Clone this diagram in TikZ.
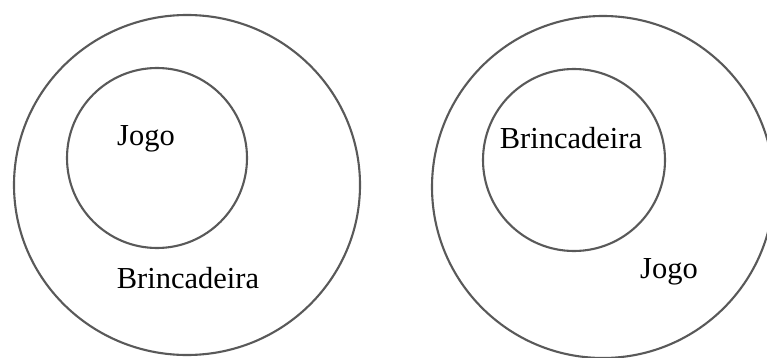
\documentclass[tikz,border=0pt]{standalone}
\usepackage{fontspec}
\setmainfont{Liberation Serif}
\begin{document}
\begin{tikzpicture}[x=1pt,y=-1pt,
  ring/.style={line width=2.1pt,draw=black!65},
  lbl/.style={font=\fontsize{30.5}{32}\selectfont,inner sep=0pt}]
  \clip (0,0) rectangle (767,358);
  \fill[white] (0,0) rectangle (767,358);
  % Left diagram
  \draw[ring] (187,185) ellipse[x radius=173,y radius=170];
  \draw[ring] (157,158) circle[radius=90];
  \node[lbl] (jogoL) at (146,139) {Jogo};
  \node[lbl] (brincL) at (188,278) {Brincadeira};
  % Right diagram
  \draw[ring] (603,187) ellipse[x radius=171,y radius=171];
  \draw[ring] (574,160) circle[radius=91];
  \node[lbl] (brincR) at (571,138) {Brincadeira};
  \node[lbl] (jogoR) at (669,272) {Jogo};
\end{tikzpicture}
\end{document}
